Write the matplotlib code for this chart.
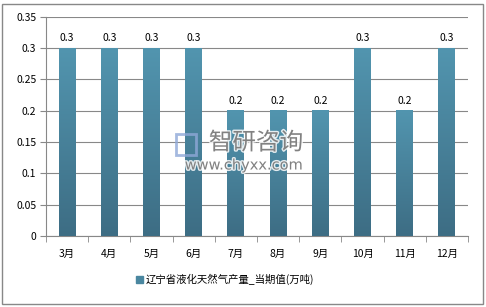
import numpy as np
import matplotlib
matplotlib.use('Agg')
import matplotlib.pyplot as plt
import matplotlib.patheffects as pe
from matplotlib.colors import LinearSegmentedColormap
from matplotlib.patches import Rectangle

plt.rcParams['font.family'] = ['Noto Sans CJK SC', 'DejaVu Sans']

months = ['3月', '4月', '5月', '6月', '7月', '8月', '9月', '10月', '11月', '12月']
values = [0.3, 0.3, 0.3, 0.3, 0.2, 0.2, 0.2, 0.3, 0.2, 0.3]
series_name = '辽宁省液化天然气产量_当期值(万吨)'
y_ticks = [0, 0.05, 0.1, 0.15, 0.2, 0.25, 0.3, 0.35]

fig = plt.figure(figsize=(4.86, 3.07), dpi=100)
ax = fig.add_axes([0.0947, 0.2313, 0.8683, 0.7143])

x = np.arange(len(months))
bars = ax.bar(x, values, width=0.4, color='#4a87a0', zorder=2)

# vertical gradient on each bar (dark at bottom, lighter at top)
cmap = LinearSegmentedColormap.from_list('bar', ['#3d6d84', '#5295af'])
grad = np.linspace(0, 1, 256).reshape(-1, 1)
for b in bars:
    x0, w, h = b.get_x(), b.get_width(), b.get_height()
    ax.imshow(grad, extent=(x0, x0 + w, 0, h), origin='lower', cmap=cmap,
              aspect='auto', zorder=3)
    b.set_alpha(0)
    ax.text(x0 + w / 2, h + 0.008, f'{h:g}', ha='center', va='bottom',
            fontsize=7.5, color='#000000', zorder=4)

ax.set_xlim(-0.5, len(months) - 0.5)
ax.set_ylim(0, 0.35)
ax.set_yticks(y_ticks)
ax.set_yticklabels([f'{v:g}' for v in y_ticks], fontsize=7.5)
ax.set_xticks(x)
ax.set_xticklabels(months, fontsize=7.5)
ax.set_xticks(np.arange(-0.5, len(months)), minor=True)
ax.tick_params(axis='x', which='major', length=0, pad=9)
ax.tick_params(axis='x', which='minor', length=4, color='#888888')
ax.tick_params(axis='y', length=4, color='#888888', pad=3)
ax.grid(axis='y', color='#888888', linewidth=0.8, zorder=1)
for s in ['top', 'right']:
    ax.spines[s].set_visible(False)
for s in ['left', 'bottom']:
    ax.spines[s].set_color('#888888')
    ax.spines[s].set_linewidth(0.8)

# legend
fig.patches.append(Rectangle((136 / 486, 1 - 283 / 307), 7 / 486, 7 / 307,
                             transform=fig.transFigure, color='#4a87a0'))
fig.text(146 / 486, 1 - 279 / 307, series_name, fontsize=7.5, va='center', ha='left')

# watermark
halo = [pe.withStroke(linewidth=2, foreground=(1, 1, 1, 0.5))]
fig.patches.append(Rectangle((176 / 486, 1 - 155 / 307), 20 / 486, 21 / 307,
                             transform=fig.transFigure, fill=False,
                             edgecolor='#8fa8d8', linewidth=2, alpha=0.8, zorder=5))
fig.text(256 / 486, 1 - 143 / 307, '智研咨询', fontsize=17, color='#6f6f6f',
         alpha=0.85, ha='center', va='center', zorder=6, path_effects=halo)
fig.text(244 / 486, 1 - 165 / 307, 'www.chyxx.com', fontsize=10.5, color='#6f6f6f',
         alpha=0.85, ha='center', va='center', zorder=6, family='DejaVu Sans',
         path_effects=halo)

# outer border
fig.patches.append(Rectangle((2 / 486, 3 / 307), 481 / 486, 300 / 307,
                             transform=fig.transFigure, fill=False,
                             edgecolor='#888888', linewidth=1))

fig.savefig('out.png', dpi=100)
